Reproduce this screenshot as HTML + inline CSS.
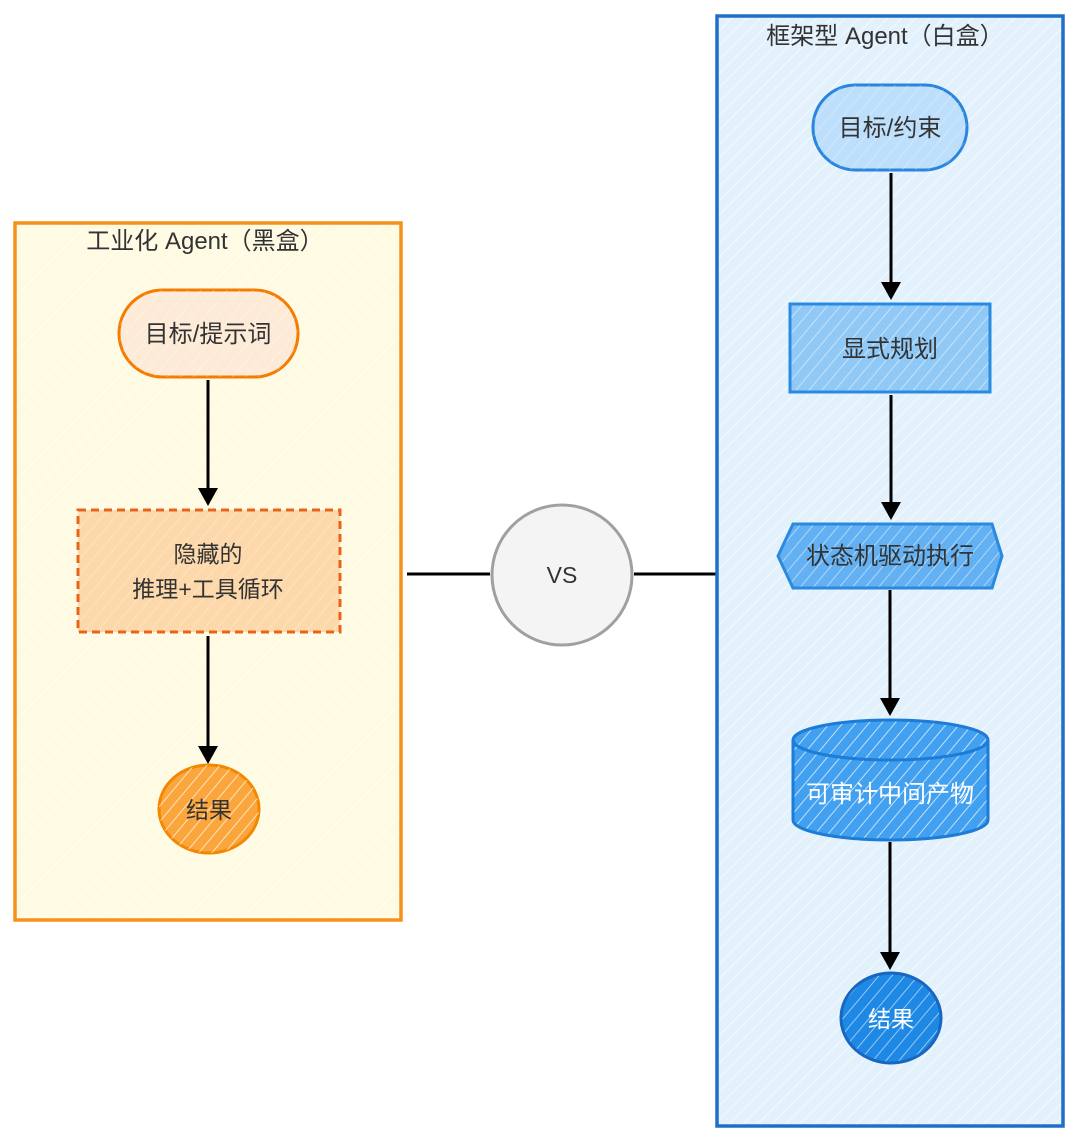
<!DOCTYPE html>
<html><head><meta charset="utf-8"><style>
html,body{margin:0;padding:0;background:#fff;}
svg{display:block;}
text{font-family:"Liberation Sans","Noto Sans CJK SC",sans-serif;}
</style></head><body>
<svg width="1080" height="1144" viewBox="0 0 1080 1144" xmlns="http://www.w3.org/2000/svg">
<defs>
<pattern id="h" width="10" height="10" patternUnits="userSpaceOnUse" patternTransform="rotate(45)">
<line x1="0" y1="0" x2="0" y2="10" stroke="#fff" stroke-width="2" opacity="0.6"/>
</pattern>
<pattern id="h2" width="10" height="10" patternUnits="userSpaceOnUse" patternTransform="rotate(40)">
<line x1="0" y1="0" x2="0" y2="10" stroke="#fff" stroke-width="1.8" opacity="0.75"/>
</pattern>
</defs>
<!-- Left container -->
<rect x="15" y="223" width="386" height="697" fill="#fffbe3"/>
<rect x="15" y="223" width="386" height="697" fill="url(#h)"/>
<rect x="15" y="223" width="386" height="697" fill="none" stroke="#f79219" stroke-width="3.5"/>
<text x="205" y="249" font-size="24" text-anchor="middle" fill="#333">工业化 Agent（黑盒）</text>
<rect x="119" y="290" width="179" height="87" rx="43.5" fill="#fdebd8" stroke="#f57c00" stroke-width="3"/>
<rect x="119" y="290" width="179" height="87" rx="43.5" fill="url(#h2)" opacity="0.4"/>
<text x="208" y="342" font-size="24" text-anchor="middle" fill="#333">目标/提示词</text>
<line x1="208" y1="380" x2="208" y2="490" stroke="#000" stroke-width="3"/>
<polygon points="198,488 218,488 208,506" fill="#000"/>
<rect x="78" y="510" width="262" height="122" fill="#fdd8aa"/>
<rect x="78" y="510" width="262" height="122" fill="url(#h2)" opacity="0.4"/>
<rect x="78" y="510" width="262" height="122" fill="none" stroke="#e8641a" stroke-width="3" stroke-dasharray="8,5"/>
<text x="208" y="562" font-size="23" text-anchor="middle" fill="#333">隐藏的</text>
<text x="208" y="597" font-size="23" text-anchor="middle" fill="#333">推理+工具循环</text>
<line x1="208" y1="636" x2="208" y2="748" stroke="#000" stroke-width="3"/>
<polygon points="198,746 218,746 208,764" fill="#000"/>
<ellipse cx="209" cy="809" rx="50" ry="44" fill="#fba63c" stroke="#f38700" stroke-width="3"/>
<ellipse cx="209" cy="809" rx="50" ry="44" fill="url(#h2)"/>
<text x="209" y="818" font-size="23" text-anchor="middle" fill="#333">结果</text>
<!-- VS -->
<line x1="407" y1="574" x2="490" y2="574" stroke="#000" stroke-width="3"/>
<line x1="634" y1="574" x2="716" y2="574" stroke="#000" stroke-width="3"/>
<circle cx="562" cy="575" r="70" fill="#f4f4f4" stroke="#a0a0a0" stroke-width="3"/>
<text x="562" y="583" font-size="23" text-anchor="middle" fill="#333">VS</text>
<!-- Right container -->
<rect x="717" y="16" width="346" height="1110" fill="#e3f1fd"/>
<rect x="717" y="16" width="346" height="1110" fill="url(#h)"/>
<rect x="717" y="16" width="346" height="1110" fill="none" stroke="#1f6fc9" stroke-width="3.5"/>
<text x="885" y="44" font-size="24" text-anchor="middle" fill="#333">框架型 Agent（白盒）</text>
<rect x="813" y="85" width="154" height="85" rx="42.5" fill="#bddffb" stroke="#2a86dd" stroke-width="3"/>
<rect x="813" y="85" width="154" height="85" rx="42.5" fill="url(#h2)" opacity="0.4"/>
<text x="890" y="136" font-size="24" text-anchor="middle" fill="#333">目标/约束</text>
<line x1="891" y1="173" x2="891" y2="284" stroke="#000" stroke-width="3"/>
<polygon points="881,282 901,282 891,300" fill="#000"/>
<rect x="790" y="304" width="200" height="88" fill="#90c9f6"/>
<rect x="790" y="304" width="200" height="88" fill="url(#h2)" opacity="0.7"/>
<rect x="790" y="304" width="200" height="88" fill="none" stroke="#2a8ae0" stroke-width="3"/>
<text x="890" y="357" font-size="24" text-anchor="middle" fill="#333">显式规划</text>
<line x1="891" y1="395" x2="891" y2="504" stroke="#000" stroke-width="3"/>
<polygon points="881,502 901,502 891,520" fill="#000"/>
<polygon points="778,556 793,524 992,524 1002,556 992,588 793,588" fill="#63b1f2"/>
<polygon points="778,556 793,524 992,524 1002,556 992,588 793,588" fill="url(#h2)" opacity="0.7"/>
<polygon points="778,556 793,524 992,524 1002,556 992,588 793,588" fill="none" stroke="#2a8ae0" stroke-width="3"/>
<text x="890" y="564" font-size="24" text-anchor="middle" fill="#333">状态机驱动执行</text>
<line x1="890" y1="590" x2="890" y2="700" stroke="#000" stroke-width="3"/>
<polygon points="880,698 900,698 890,716" fill="#000"/>
<path d="M793,740 L793,820 A97.5,20 0 0 0 988,820 L988,740 A97.5,20 0 0 0 793,740 Z" fill="#42a0f0"/>
<path d="M793,740 L793,820 A97.5,20 0 0 0 988,820 L988,740 A97.5,20 0 0 0 793,740 Z" fill="url(#h2)"/>
<path d="M793,740 L793,820 A97.5,20 0 0 0 988,820 L988,740 A97.5,20 0 0 0 793,740 Z" fill="none" stroke="#1c7cd6" stroke-width="3"/>
<path d="M793,740 A97.5,20 0 0 0 988,740" fill="none" stroke="#1c7cd6" stroke-width="3"/>
<text x="890" y="802" font-size="24" text-anchor="middle" fill="#fff">可审计中间产物</text>
<line x1="890" y1="842" x2="890" y2="954" stroke="#000" stroke-width="3"/>
<polygon points="880,952 900,952 890,970" fill="#000"/>
<ellipse cx="891" cy="1018" rx="50" ry="45" fill="#1e88e5"/>
<ellipse cx="891" cy="1018" rx="50" ry="45" fill="url(#h2)" opacity="0.8"/>
<ellipse cx="891" cy="1018" rx="50" ry="45" fill="none" stroke="#1766c0" stroke-width="3"/>
<text x="891" y="1027" font-size="23" text-anchor="middle" fill="#fff">结果</text>
</svg>
</body></html>
